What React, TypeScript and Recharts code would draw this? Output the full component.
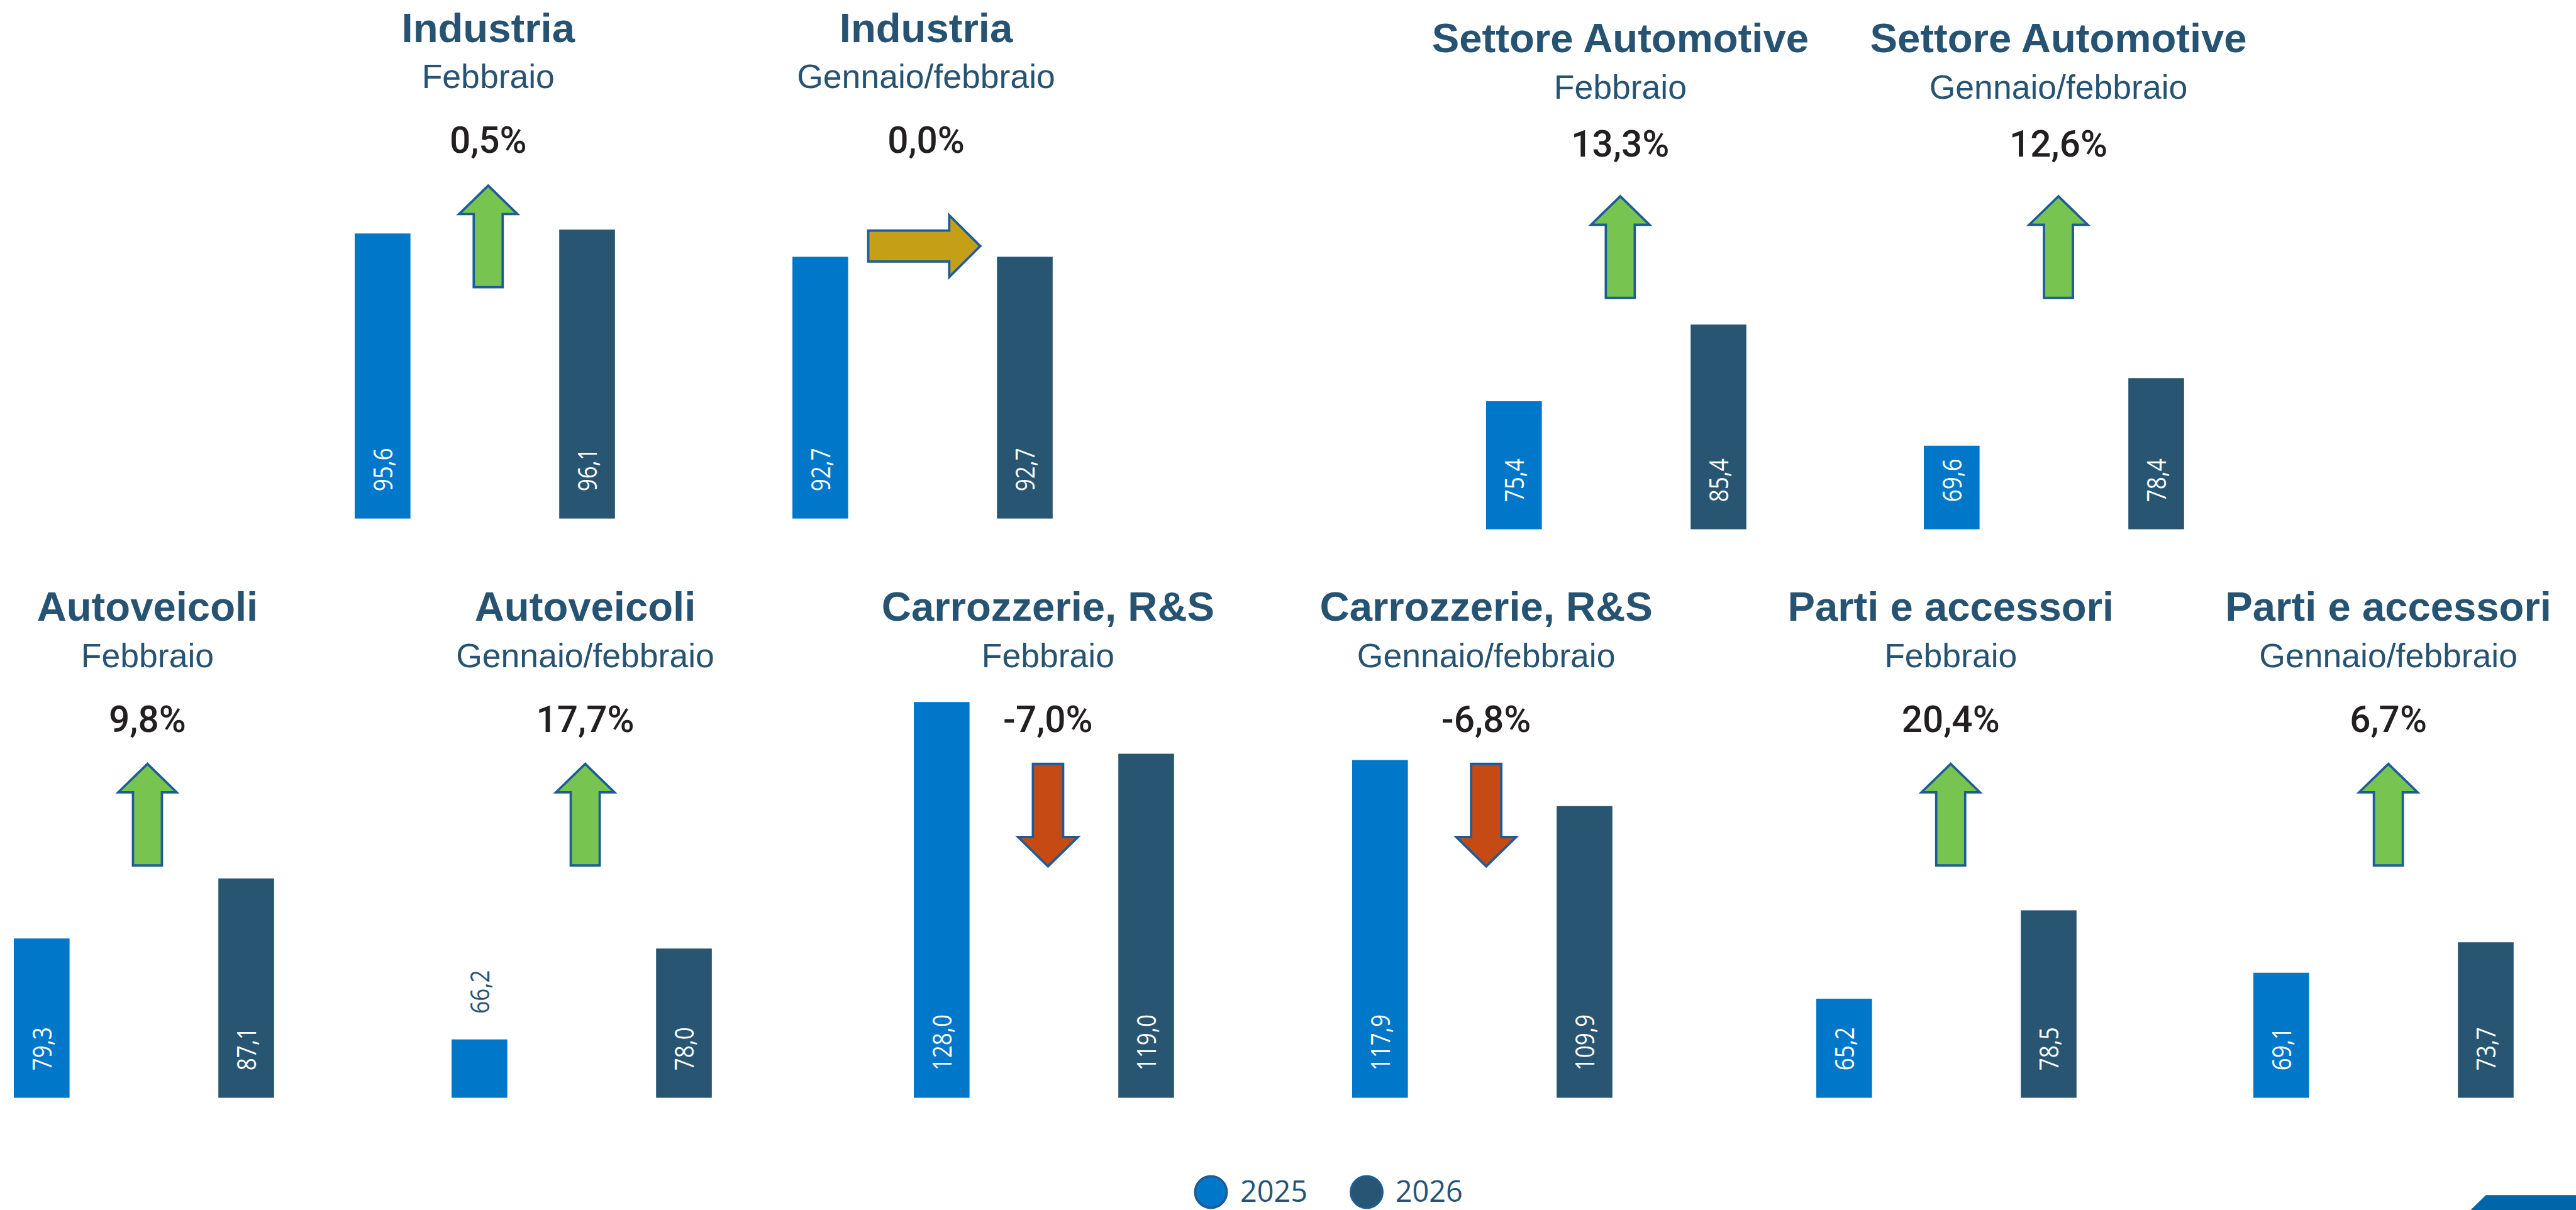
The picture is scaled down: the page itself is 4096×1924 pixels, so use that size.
import { BarChart, Bar, XAxis, YAxis, Cell, LabelList } from "recharts";

// ---- data ----
const PANEL_TITLES = [
  "Industria",
  "Industria",
  "Settore Automotive",
  "Settore Automotive",
  "Autoveicoli",
  "Autoveicoli",
  "Carrozzerie, R&S",
  "Carrozzerie, R&S",
  "Parti e accessori",
  "Parti e accessori",
];
const PERIODS = [
  "Febbraio",
  "Gennaio/febbraio",
  "Febbraio",
  "Gennaio/febbraio",
  "Febbraio",
  "Gennaio/febbraio",
  "Febbraio",
  "Gennaio/febbraio",
  "Febbraio",
  "Gennaio/febbraio",
];
const YEARS = ["2025", "2026"];
const VALUES_2025 = [95.6, 92.7, 75.4, 69.6, 79.3, 66.2, 128.0, 117.9, 65.2, 69.1];
const VALUES_2026 = [96.1, 92.7, 85.4, 78.4, 87.1, 78.0, 119.0, 109.9, 78.5, 73.7];
const CHANGES = [0.5, 0.0, 13.3, 12.6, 9.8, 17.7, -7.0, -6.8, 20.4, 6.7];
// each small chart has its own value axis (none starts at zero)
const AXIS_MIN = [60, 60, 58.7, 58.7, 58.6, 58.6, 59.1, 59.1, 50.3, 50.3];
const AXIS_MAX = [112.5, 112.5, 113.5, 113.5, 113.2, 113.2, 132.3, 132.3, 113.5, 113.5];

// ---- layout, in reference pixels (4897 x 2300), scaled by S ----
const S = 0.836;
const REF_W = 4897;
const REF_H = 2300;
const COLORS = ["#0077c8", "#275572"];
const TITLE_COLOR = "#275373";
const ARROW_STROKE = "#1d5c97";

const ROWS: Record<string, { title: number; sub: number; pct: number; arrow: number; base: number }> = {
  topLeft: { title: 79.7, sub: 167, pct: 290, arrow: 352.7, base: 987 },
  topRight: { title: 99, sub: 187.5, pct: 297.7, arrow: 373, base: 1006.7 },
  bottom: { title: 1179.6, sub: 1268.3, pct: 1391, arrow: 1452, base: 2088.6 },
};
const PANEL_ROW = [
  "topLeft",
  "topLeft",
  "topRight",
  "topRight",
  "bottom",
  "bottom",
  "bottom",
  "bottom",
  "bottom",
  "bottom",
];
// left edge of the first bar of each panel
const PANEL_LEFT = [674.6, 1507, 2826.7, 3659.6, 26.8, 859, 1738.8, 2571.8, 3454.8, 4286.8];

const BAND = 389; // distance between the two bars
const BAR_W = 106;
const PLOT_H = 800;

const fmt = (v: number) => v.toFixed(1).replace(".", ",");

const ValueLabel = (props: any) => {
  const { x, y, width, height, value } = props;
  const fs = 43 * S * 1.19;
  const cx = Number(x) + Number(width) / 2 + fs * 0.36;
  const inside = Number(height) > 140 * S;
  const ay = inside ? Number(y) + Number(height) - 52 * S : Number(y) - 49 * S;
  return (
    <text
      transform={`translate(${cx},${ay}) rotate(-90) scale(0.82,1)`}
      textAnchor="start"
      fontFamily="'Open Sans', sans-serif"
      fontSize={fs}
      fill={inside ? "#ffffff" : TITLE_COLOR}
    >
      {fmt(Number(value))}
    </text>
  );
};

function Panel({ i }: { i: number }) {
  const row = ROWS[PANEL_ROW[i]];
  const data = YEARS.map((year, j) => ({
    year,
    value: j === 0 ? VALUES_2025[i] : VALUES_2026[i],
  }));
  const left = PANEL_LEFT[i] + BAR_W / 2 - BAND / 2;
  return (
    <div
      style={{
        position: "absolute",
        left: left * S,
        top: (row.base - PLOT_H) * S,
      }}
    >
      <BarChart
        width={BAND * 2 * S}
        height={PLOT_H * S}
        data={data}
        margin={{ top: 0, right: 0, bottom: 0, left: 0 }}
      >
        <XAxis dataKey="year" hide />
        <YAxis hide domain={[AXIS_MIN[i], AXIS_MAX[i]]} allowDataOverflow />
        <Bar dataKey="value" barSize={BAR_W * S} isAnimationActive={false}>
          {data.map((d, j) => (
            <Cell key={d.year} fill={COLORS[j]} />
          ))}
          <LabelList dataKey="value" content={ValueLabel} />
        </Bar>
      </BarChart>
    </div>
  );
}

function Arrow({ cx, top, change }: { cx: number; top: number; change: number }) {
  let pts: number[][];
  let fill: string;
  if (change > 0) {
    fill = "#78c450";
    pts = [
      [cx, top],
      [cx + 55.5, top + 54],
      [cx + 27.5, top + 54],
      [cx + 27.5, top + 193],
      [cx - 27.5, top + 193],
      [cx - 27.5, top + 54],
      [cx - 55.5, top + 54],
    ];
  } else if (change < 0) {
    fill = "#c54a14";
    pts = [
      [cx - 28.7, top],
      [cx + 28.7, top],
      [cx + 28.7, top + 139],
      [cx + 57, top + 139],
      [cx, top + 195],
      [cx - 57, top + 139],
      [cx - 28.7, top + 139],
    ];
  } else {
    fill = "#c5a016";
    const x0 = cx - 110;
    const cy = top + 115;
    pts = [
      [x0, cy - 29.5],
      [x0 + 154, cy - 29.5],
      [x0 + 154, cy - 58.7],
      [x0 + 213, cy],
      [x0 + 154, cy + 58.7],
      [x0 + 154, cy + 29.5],
      [x0, cy + 29.5],
    ];
  }
  return (
    <polygon
      points={pts.map((p) => p.join(",")).join(" ")}
      fill={fill}
      stroke={ARROW_STROKE}
      strokeWidth={4.5}
      strokeLinejoin="miter"
    />
  );
}

export default function App() {
  return (
    <div
      style={{
        position: "absolute",
        left: 0,
        top: 0,
        width: 4096,
        height: 1924,
        background: "#ffffff",
        overflow: "hidden",
      }}
    >
      {PANEL_TITLES.map((_, i) => (
        <Panel key={i} i={i} />
      ))}
      <svg
        width={4096}
        height={1924}
        viewBox={`0 0 ${REF_W} ${REF_H}`}
        style={{ position: "absolute", left: 0, top: 0, pointerEvents: "none" }}
      >
        {PANEL_TITLES.map((title, i) => {
          const row = ROWS[PANEL_ROW[i]];
          const mid = PANEL_LEFT[i] + BAR_W / 2 + BAND / 2 + 6;
          return (
            <g key={i}>
              <text
                x={mid}
                y={row.title}
                textAnchor="middle"
                fontFamily="'Liberation Sans', Arial, sans-serif"
                fontWeight={700}
                fontSize={78}
                fill={TITLE_COLOR}
              >
                {title}
              </text>
              <text
                x={mid}
                y={row.sub}
                textAnchor="middle"
                fontFamily="'Liberation Sans', Arial, sans-serif"
                fontSize={64}
                fill={TITLE_COLOR}
              >
                {PERIODS[i]}
              </text>
              <text
                x={mid}
                y={row.pct}
                textAnchor="middle"
                fontFamily="Roboto, sans-serif"
                fontWeight={500}
                fontSize={70}
                fill="#231f20"
              >
                {fmt(CHANGES[i]) + "%"}
              </text>
              <Arrow cx={mid} top={row.arrow} change={CHANGES[i]} />
            </g>
          );
        })}

        {/* legend */}
        {YEARS.map((y, j) => (
          <g key={y}>
            <circle
              cx={2302 + j * 296}
              cy={2266}
              r={30}
              fill={COLORS[j]}
              stroke={ARROW_STROKE}
              strokeWidth={4.5}
            />
            <text
              x={2357.7 + j * 295}
              y={2284}
              fontFamily="'Open Sans', sans-serif"
              fontSize={56}
              fill={TITLE_COLOR}
            >
              {y}
            </text>
          </g>
        ))}

        {/* corner decoration */}
        <polygon points="4725.7,2271.7 4897,2271.7 4897,2300 4696.7,2300" fill="#0066a9" />
      </svg>
    </div>
  );
}
